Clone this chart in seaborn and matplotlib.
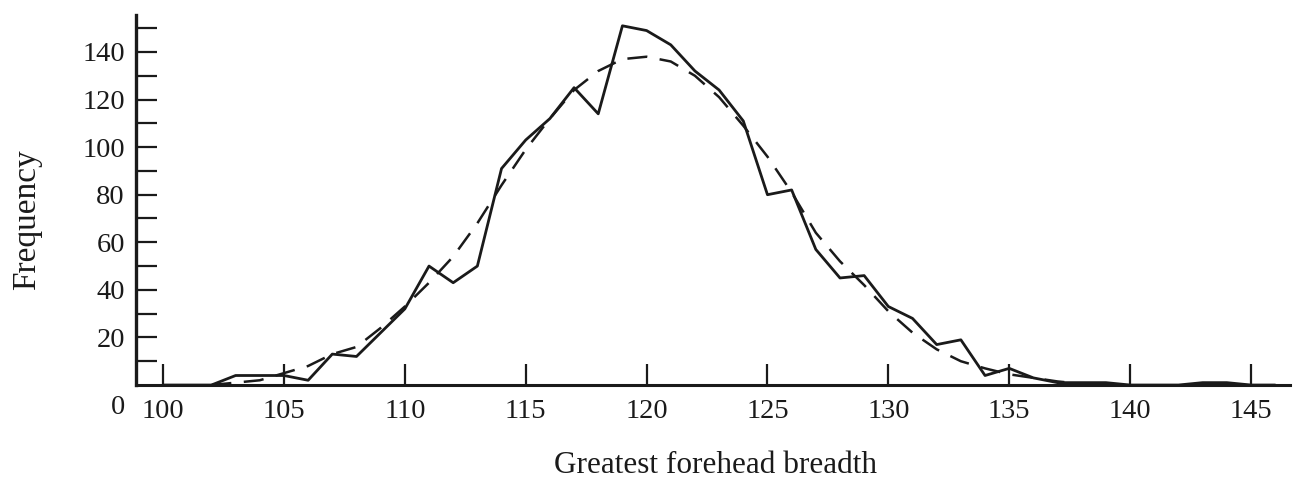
import matplotlib
matplotlib.use("Agg")

import matplotlib.pyplot as plt
import numpy as np
import pandas as pd
import seaborn as sns
from matplotlib.ticker import FixedLocator, NullFormatter

# --------------------------------------------------------------------------- #
# Data
# --------------------------------------------------------------------------- #
BREADTH = list(range(100, 147))
OBSERVED = [0, 0, 0, 4, 4, 4, 2, 13, 12, 22,
            32, 50, 43, 50, 91, 103, 112, 125, 114, 151,
            149, 143, 132, 124, 111, 80, 82, 57, 45, 46,
            33, 28, 17, 19, 4, 7, 3, 1, 1, 1,
            0, 0, 0, 1, 1, 0, 0]

FIT_BREADTH = list(range(102, 139))
FITTED = [0, 1, 2, 5, 8, 13, 16, 24, 33, 43,
          54, 68, 84, 99, 112, 124, 132, 137, 138, 136,
          130, 121, 109, 96, 81, 64, 52, 42, 31, 22,
          15, 10, 7, 4.5, 3, 1.5, 0.5]

X_TICKS = [100, 105, 110, 115, 120, 125, 130, 135, 140, 145]
Y_MAJOR = [20, 40, 60, 80, 100, 120, 140]
Y_MINOR = [10, 30, 50, 70, 90, 110, 130, 150]

INK = "#1a1a1a"

sns.set_theme(style="white")
plt.rcParams["font.family"] = ["Liberation Serif", "DejaVu Serif"]

obs = pd.DataFrame({"breadth": BREADTH, "freq": OBSERVED})
fit = pd.DataFrame({"breadth": FIT_BREADTH, "freq": FITTED})

fig = plt.figure(figsize=(13.04, 4.87), dpi=100)
ax = fig.add_axes([0.1043, 0.2094, 0.8847, 0.7596])

sns.lineplot(data=obs, x="breadth", y="freq", ax=ax, color=INK,
             linewidth=2.0)
sns.lineplot(data=fit, x="breadth", y="freq", ax=ax, color=INK,
             linewidth=1.8, linestyle=(0, (8, 5)))

ax.set_xlim(98.88, 146.6)
ax.set_ylim(0, 155.5)

ax.set_xticks(X_TICKS)
ax.yaxis.set_major_locator(FixedLocator(Y_MAJOR))
ax.yaxis.set_minor_locator(FixedLocator(Y_MINOR))
ax.yaxis.set_minor_formatter(NullFormatter())

# seaborn's white style switches the tick marks off, so turn them back on
ax.tick_params(axis="x", which="major", bottom=True, direction="in",
               length=15, width=1.6, labelsize=20.5, pad=10,
               color=INK, labelcolor=INK)
ax.tick_params(axis="y", which="both", left=True, direction="in",
               length=15, width=1.6, labelsize=20.5, pad=8,
               color=INK, labelcolor=INK)

for side in ("top", "right"):
    ax.spines[side].set_visible(False)
ax.spines["left"].set_linewidth(2.4)
ax.spines["bottom"].set_linewidth(2.2)
ax.spines["left"].set_color(INK)
ax.spines["bottom"].set_color(INK)

# origin label sits just left of "100"
ax.text(98.15, -0.027, "0", transform=ax.get_xaxis_transform(),
        ha="center", va="top", fontsize=20.5, color=INK)

ax.set_xlabel("Greatest forehead breadth", fontsize=22.5, color=INK)
ax.xaxis.set_label_coords(0.5025, -0.178)
ax.set_ylabel("Frequency", fontsize=24, color=INK)
ax.yaxis.set_label_coords(-0.081, 0.446)
ax.grid(False)

fig.savefig("out.png", dpi=100)
